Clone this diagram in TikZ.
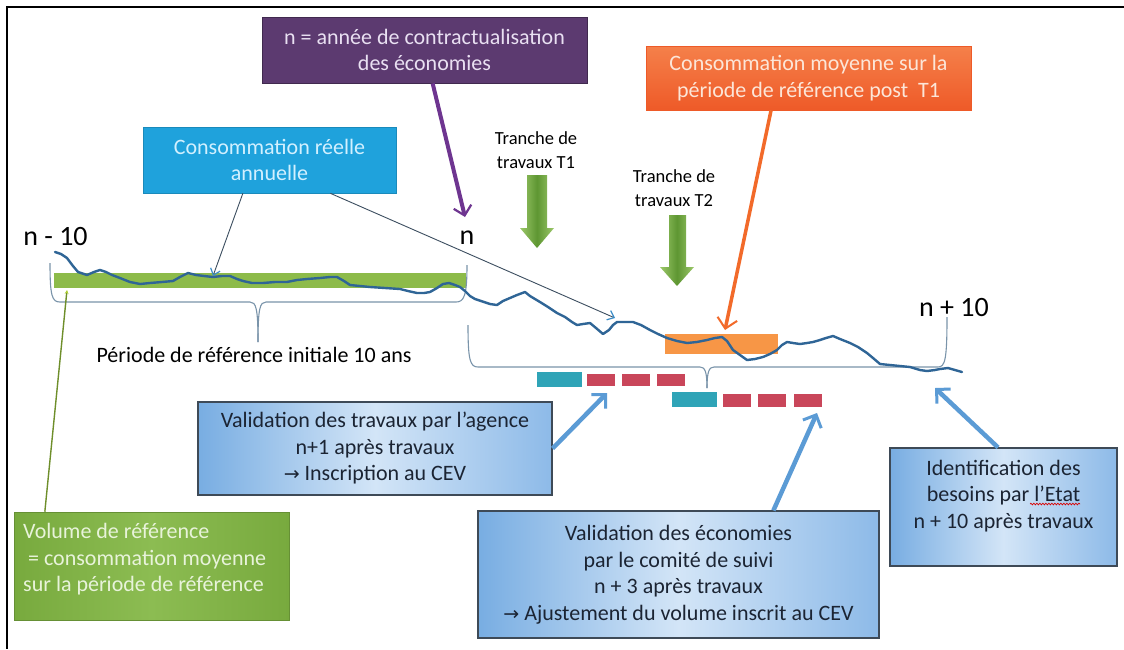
\documentclass[tikz,border=0pt]{standalone}
\usepackage{fontspec}
\setmainfont{Carlito}
\newfontfamily\arrowfont{DejaVu Sans}
\usetikzlibrary{arrows.meta,calc,decorations.pathmorphing}
\definecolor{purplebox}{HTML}{5C3A70}
\definecolor{purplearr}{HTML}{6E3590}
\definecolor{purpletext}{HTML}{E9E0F2}
\definecolor{cyanbox}{HTML}{1FA2DC}
\definecolor{cyantext}{HTML}{D2F0FF}
\definecolor{orangeA}{HTML}{F5804A}
\definecolor{orangeB}{HTML}{EE5A28}
\definecolor{orangetext}{HTML}{FCE6D8}
\definecolor{orangearr}{HTML}{F26A2A}
\definecolor{orangebar}{HTML}{F79646}
\definecolor{greenbox}{HTML}{78AA3E}
\definecolor{greenboxL}{HTML}{8CBC52}
\definecolor{greentext}{HTML}{E8F3DA}
\definecolor{greenbar}{HTML}{8DBB4A}
\definecolor{greenarrL}{HTML}{9CC86A}
\definecolor{greenarrD}{HTML}{5E9632}
\definecolor{greenline}{HTML}{6E8E2A}
\definecolor{blueL}{HTML}{78ADE2}
\definecolor{blueM}{HTML}{D3E5F7}
\definecolor{blueR}{HTML}{8DBAE8}
\definecolor{boxborder}{HTML}{3E4A57}
\definecolor{boxtext}{HTML}{1B2433}
\definecolor{bluearr}{HTML}{5B9BD5}
\definecolor{curvecol}{HTML}{2F6596}
\definecolor{curvelight}{HTML}{4FA0D8}
\definecolor{bracecol}{HTML}{7A94AA}
\definecolor{thinarr}{HTML}{3C4E60}
\definecolor{thinhead}{HTML}{3A8CC8}
\definecolor{tealbar}{HTML}{2FA4B7}
\definecolor{redbar}{HTML}{C9465A}
\begin{document}
\begin{tikzpicture}[x=1pt,y=-1pt,
  bigtext/.style={font=\fontsize{22}{26.5}\selectfont},
  colbox/.style={bigtext, inner sep=0pt, align=center},
  lightbox/.style={colbox, draw=boxborder, line width=1.1pt, text=boxtext,
    left color=blueL, right color=blueR, middle color=blueM},
  barnode/.style={inner sep=0pt, draw=none},
  brace/.style={draw=bracecol, line width=1.1pt},
  curve/.style={draw=curvecol, line width=2.4pt, line join=round, line cap=round},
  thinarrow/.style={draw=thinarr, line width=0.9pt,
    -{Straight Barb[length=6pt,width=10pt,line width=1.2pt,color=thinhead]}},
  bluearrow/.style={draw=bluearr, line width=4.5pt,
    -{Straight Barb[length=10pt,width=20pt,line width=3pt]}},
  tranche/.style={font=\fontsize{18.5}{24}\selectfont, align=center, inner sep=0pt},
  yearlabel/.style={font=\fontsize{28}{30}\selectfont, inner sep=0pt}
]
\useasboundingbox (0,0) rectangle (1124,649);
\fill[white] (0,0) rectangle (1124,649);
% frame
\draw[line width=2.4pt] (1124,7) -- (7,7) -- (7,649);

% coloured title boxes
\node[colbox, fill=purplebox, draw=purplebox!70!black, line width=0.8pt, text=purpletext,
  minimum width=325pt, minimum height=66pt] (purple) at (424.5,50)
  {n = année de contractualisation\\des économies};
\node[colbox, fill=cyanbox, draw=cyanbox!85!black, line width=0.6pt, text=cyantext,
  minimum width=253pt, minimum height=66pt] (cyan) at (269.5,160)
  {Consommation réelle\\annuelle};
\node[colbox, top color=orangeA, bottom color=orangeB, draw=orangeB, line width=0.6pt,
  text=orangetext, minimum width=325pt, minimum height=64pt] (orange) at (808.5,78)
  {Consommation moyenne sur la\\période de référence post~ T1};

% tranche labels
\node[tranche] (t1) at (536,150) {Tranche de\\travaux T1};
\node[tranche] (t2) at (674,188) {Tranche de\\travaux T2};
\shade[left color=greenarrL, right color=greenarrL, middle color=greenarrD]
  (527,175) -- (547,175) -- (547,228) -- (554,228) -- (537,248) -- (520,228) -- (527,228) -- cycle;
\shade[left color=greenarrL, right color=greenarrL, middle color=greenarrD]
  (669,215) -- (686,215) -- (686,267) -- (694,267) -- (677,286) -- (660,267) -- (669,267) -- cycle;

% year labels
\node[yearlabel] (nm10) at (55.5,237) {n - 10};
\node[yearlabel] (nlab) at (467,238) {n};
\node[yearlabel] (np10) at (954,308) {n + 10};

% mean bars
\node[barnode, fill=greenbar, minimum width=412pt, minimum height=15pt] (gbar) at (260,280.5) {};
\node[barnode, fill=orangebar, minimum width=113pt, minimum height=20pt] (obar) at (721.5,343.5) {};

% braces
\draw[brace] (50,263) .. controls (50,296) and (52,302) .. (60,302) -- (250,302)
  .. controls (256,302) and (258,308) .. (258,342);
\draw[brace] (258,342) .. controls (258,308) and (260,302) .. (266,302) -- (456,302)
  .. controls (464,302) and (467,296) .. (467,265);
\draw[brace] (468,325) .. controls (468,360) and (470,367) .. (478,367) -- (700,367)
  .. controls (705,367) and (707,372) .. (707,388);
\draw[brace] (707,388) .. controls (707,372) and (709,367) .. (714,367) -- (938,367)
  .. controls (945,367) and (947,360) .. (947,317);
\node[bigtext, inner sep=0pt] (periode) at (254,355) {Période de référence initiale 10 ans};

% consumption curve
\draw[curve] plot coordinates {(55,252) (61,254) (67,258) (73,266) (78,272) (87,275) (94,272)
 (100,270) (106,272) (112,275) (120,278) (130,282) (140,284) (150,283) (162,282) (173,281)
 (180,277) (188,273) (196,275) (204,276) (213,277) (222,276) (230,276) (237,279) (243,281)
 (252,283) (263,283) (275,282) (287,282) (297,280) (307,279) (320,278) (330,277) (337,277)
 (344,281) (350,285) (360,286) (370,287) (385,288) (400,289) (408,291) (417,293) (424,293)
 (430,292) (437,288) (443,284) (449,283) (455,285) (460,287) (465,291) (470,296) (475,299)
 (481,301) (490,304) (497,305) (503,301) (510,298) (517,295) (525,292) (530,296) (535,299)
 (540,302) (548,307) (557,313) (565,317) (572,322) (577,325) (583,324) (590,323) (596,328)
 (603,334) (609,330) (613,325) (617,322) (625,322) (633,322) (641,325) (650,330) (658,334)
 (667,338) (677,341) (687,343) (697,342) (707,340) (715,338) (722,337) (727,341) (733,350)
 (740,355) (747,360) (755,359) (763,357) (770,354) (777,350) (782,345) (787,342) (793,343)
 (800,344) (807,343) (813,342) (820,340) (826,338) (833,336) (840,339) (850,343) (858,347)
 (867,353) (873,358) (880,364) (890,365) (900,366) (910,367) (920,370) (927,371) (935,370)
 (940,369) (948,368) (955,370) (962,372)};

% agency / committee bars
\node[barnode, fill=tealbar, minimum width=45pt, minimum height=15pt] (teal1) at (559.5,379.5) {};
\node[barnode, fill=redbar, minimum width=28pt, minimum height=12pt] (red1a) at (601,380) {};
\node[barnode, fill=redbar, minimum width=28pt, minimum height=12pt] (red1b) at (636,380) {};
\node[barnode, fill=redbar, minimum width=28pt, minimum height=12pt] (red1c) at (671,380) {};
\node[barnode, fill=tealbar, minimum width=45pt, minimum height=15pt] (teal2) at (694.5,399.5) {};
\node[barnode, fill=redbar, minimum width=28pt, minimum height=13pt] (red2a) at (737,400.5) {};
\node[barnode, fill=redbar, minimum width=28pt, minimum height=13pt] (red2b) at (772,400.5) {};
\node[barnode, fill=redbar, minimum width=28pt, minimum height=13pt] (red2c) at (807.5,400.5) {};

% light blue boxes
\node[lightbox, minimum width=354pt, minimum height=93pt] (boxA) at (375,448.5)
  {Validation des travaux par l’agence\\n+1 après travaux\\{\arrowfont\fontsize{19}{26.5}\selectfont →} Inscription au CEV};
\node[lightbox, minimum width=401pt, minimum height=127pt] (boxB) at (678.5,574.5)
  {Validation des économies\\par le comité de suivi\\n + 3 après travaux\\{\arrowfont\fontsize{19}{26.5}\selectfont →} Ajustement du volume inscrit au CEV};
\node[lightbox, minimum width=227pt, minimum height=118pt] (boxC) at (1003.5,507) {};
\node[bigtext, align=center, inner sep=0pt, text=boxtext] (boxCtext) at (1003.5,496)
  {Identification des\\besoins par l’Etat\\n + 10 après travaux};
\draw[red!85!black, line width=0.7pt, decorate,
  decoration={snake, amplitude=0.8pt, segment length=3pt}] (1030,504) -- (1080,504);

% green box
\node[inner sep=0pt, left color=greenbox, right color=greenbox, middle color=greenboxL,
  draw=greenbox!85!black, line width=0.6pt, minimum width=275pt, minimum height=108pt] (gbox) at (151.5,566) {};
\node[bigtext, align=left, inner sep=0pt, text=greentext, anchor=west] (gboxtext) at (23,559.5)
  {Volume de référence\\\ = consommation moyenne\\sur la période de référence};

% connectors
\coordinate (purpletip) at (465,217);
\coordinate (orangetip) at (725,330);
\coordinate (cyantipA) at (213,276);
\coordinate (cyantipB) at (615,318);
\coordinate (greentip) at (67,290);
\coordinate (tipA) at (607,393);
\coordinate (tipB) at (817,413);
\coordinate (tipC) at (935,388);

\draw[draw=purplearr, line width=4pt,
  -{Straight Barb[length=9pt,width=18pt,line width=2.2pt]}]
  ($(purple.south west)!0.525!(purple.south east)$) -- (purpletip);
\draw[draw=orangearr, line width=3.5pt,
  -{Straight Barb[length=10pt,width=20pt,line width=2pt]}]
  ($(orange.south west)!0.385!(orange.south east)$) -- (orangetip);
\draw[thinarrow] ($(cyan.south west)!0.395!(cyan.south east)$) -- (cyantipA);
\draw[thinarrow] ($(cyan.south west)!0.74!(cyan.south east)$) -- (cyantipB);
\draw[draw=greenline, line width=1.4pt, -{Stealth[length=4pt,width=4pt,color=greenbar!70!yellow]}]
  ($(gbox.north west)!0.113!(gbox.north east)$) -- (greentip);
\draw[bluearrow] (boxA.east) -- (tipA);
\draw[bluearrow] ($(boxB.north west)!0.736!(boxB.north east)$) -- (tipB);
\draw[bluearrow] ($(boxC.north west)!0.476!(boxC.north east)$) -- (tipC);
\end{tikzpicture}
\end{document}
